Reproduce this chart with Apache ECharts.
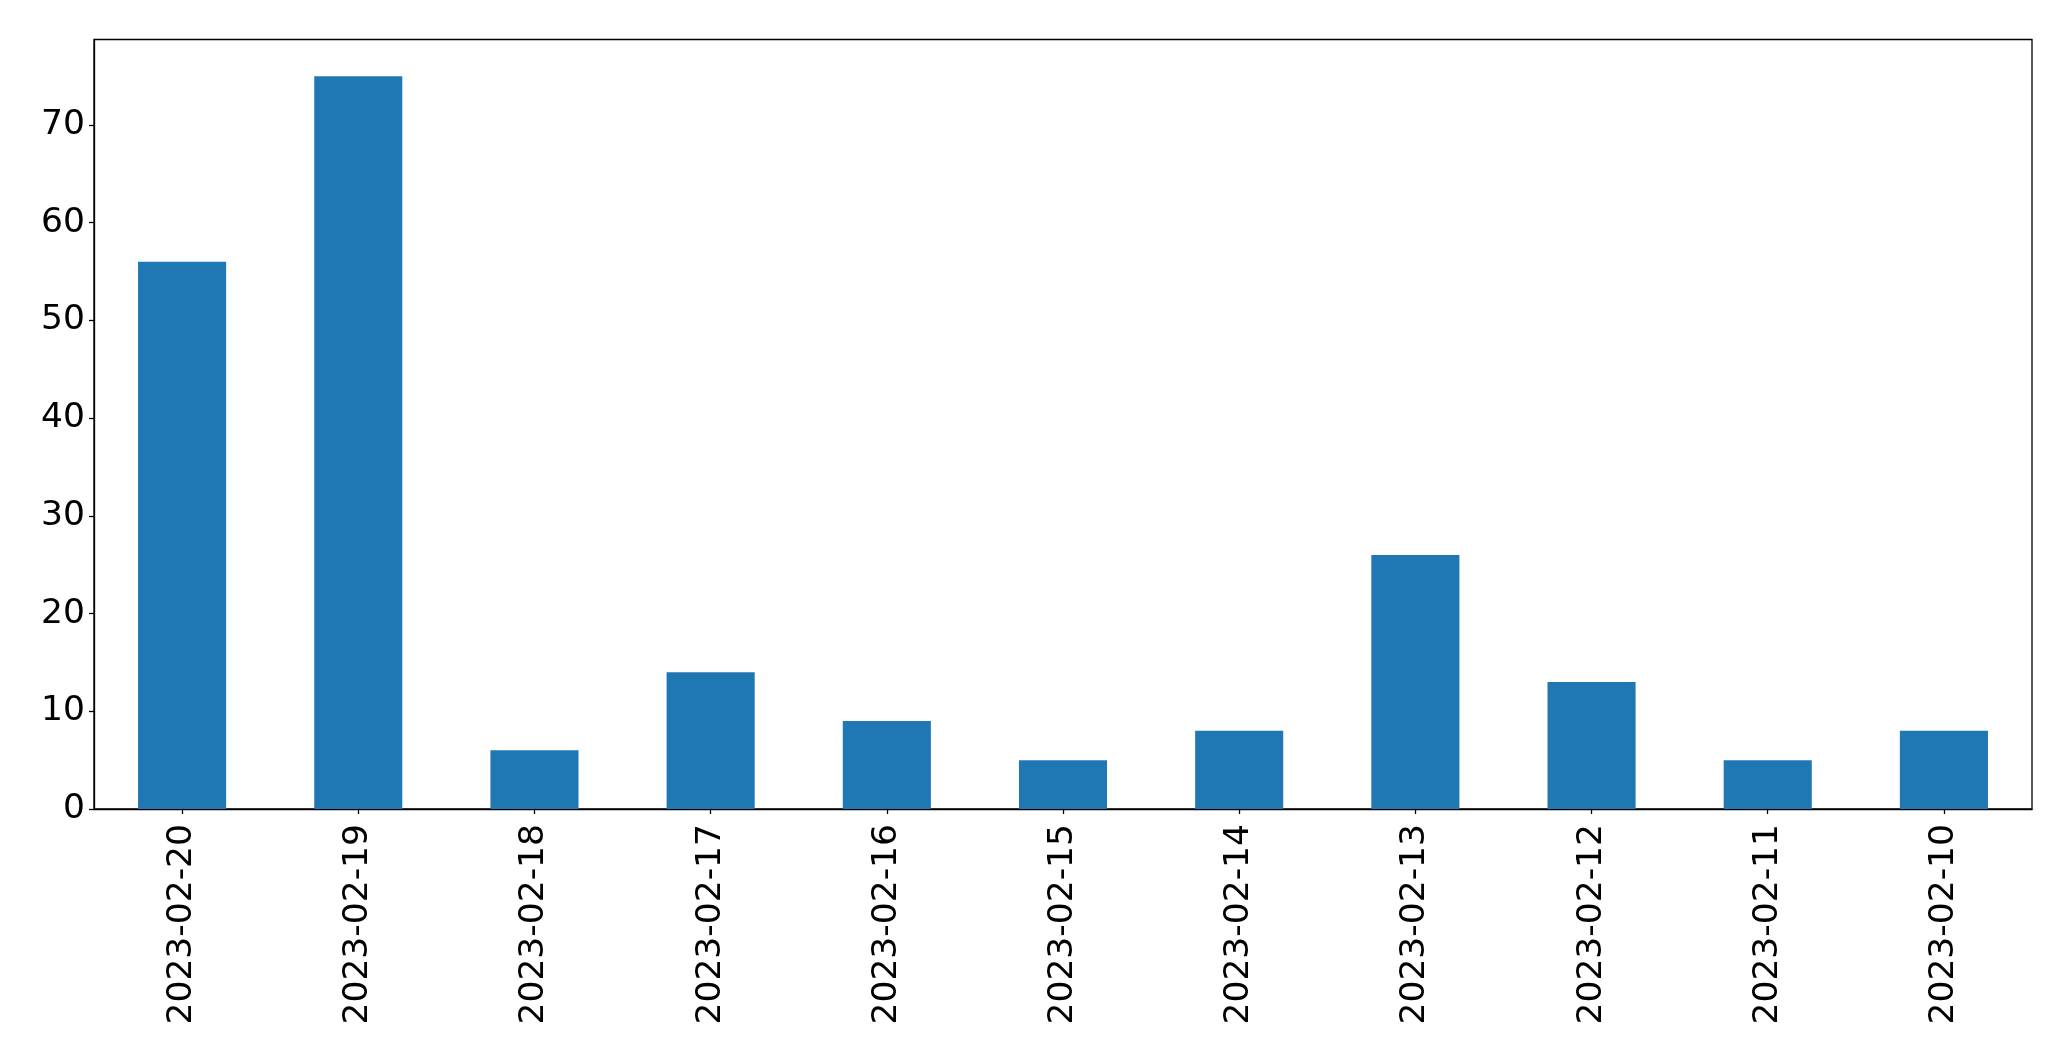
<!DOCTYPE html>
<html>
<head>
<meta charset="utf-8">
<script src="https://cdn.jsdelivr.net/npm/echarts@6/dist/echarts.min.js"></script>
<style>
html,body{margin:0;padding:0;background:#fff;}
#chart{width:2071px;height:1061px;}
</style>
</head>
<body>
<div id="chart"></div>
<script>
const categories = ["2023-02-20","2023-02-19","2023-02-18","2023-02-17","2023-02-16","2023-02-15","2023-02-14","2023-02-13","2023-02-12","2023-02-11","2023-02-10"];
const values = [56, 75, 6, 14, 9, 5, 8, 26, 13, 5, 8];
const yTicks = [0, 10, 20, 30, 40, 50, 60, 70];
const yMax = 78.75;

const chart = echarts.init(document.getElementById('chart'), null, {renderer: 'canvas'});
const font = 'DejaVu Sans';
chart.setOption({
  animation: false,
  backgroundColor: '#ffffff',
  grid: {
    left: 94, right: 39, top: 39.5, bottom: 252,
    show: true, borderColor: '#000', borderWidth: 1.3, backgroundColor: 'transparent'
  },
  xAxis: {
    type: 'category',
    data: categories,
    boundaryGap: true,
    axisLine: {show: true, lineStyle: {color: '#000', width: 1.3}},
    axisTick: {show: true, alignWithLabel: true, length: 5, lineStyle: {color: '#000', width: 1.3}},
    axisLabel: {rotate: 90, margin: 15, color: '#000', fontFamily: font, fontSize: 34.5, interval: 0}
  },
  yAxis: {
    type: 'value',
    min: 0, max: yMax, interval: 10,
    splitLine: {show: false},
    axisLine: {show: true, lineStyle: {color: '#000', width: 1.3}},
    axisTick: {show: true, length: 5, customValues: yTicks, lineStyle: {color: '#000', width: 1.3}},
    axisLabel: {customValues: yTicks, margin: 9, color: '#000', fontFamily: font, fontSize: 34.5}
  },
  series: [{
    type: 'bar',
    data: values,
    barWidth: '50%',
    itemStyle: {color: '#1f77b4'}
  }]
});
</script>
</body>
</html>
